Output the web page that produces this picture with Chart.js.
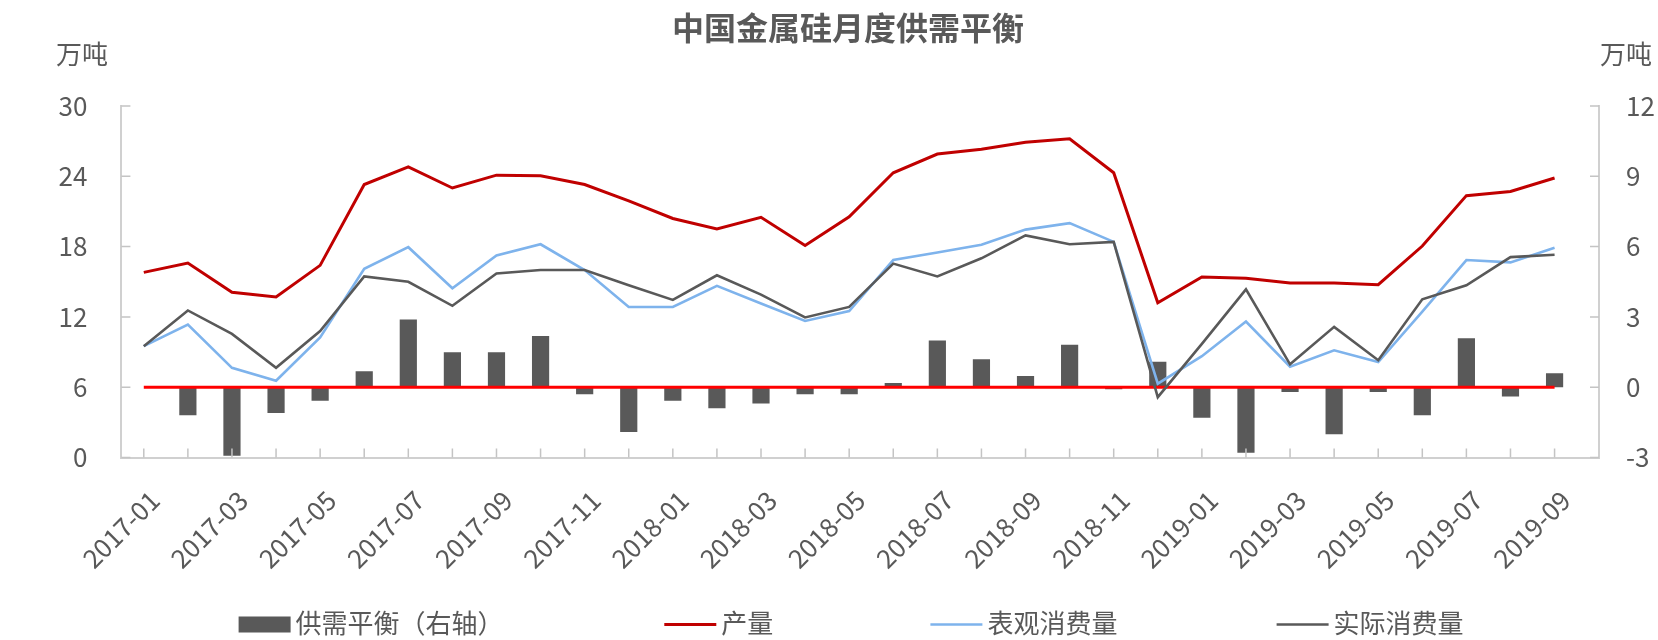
<!DOCTYPE html>
<html><head><meta charset="utf-8">
<script src="https://cdn.jsdelivr.net/npm/chart.js@4.4.1/dist/chart.umd.min.js"></script>
<style>html,body{margin:0;padding:0;background:#fff;}#wrap{width:1658px;height:640px;position:relative;}</style>
</head><body><div id="wrap"><canvas id="c"></canvas></div>
<script>
// ---- data ----
const months = ['2017-01','2017-02','2017-03','2017-04','2017-05','2017-06','2017-07','2017-08','2017-09','2017-10','2017-11','2017-12',
  '2018-01','2018-02','2018-03','2018-04','2018-05','2018-06','2018-07','2018-08','2018-09','2018-10','2018-11','2018-12',
  '2019-01','2019-02','2019-03','2019-04','2019-05','2019-06','2019-07','2019-08','2019-09'];
const production = [15.8,16.6,14.1,13.7,16.4,23.3,24.8,23.0,24.1,24.05,23.3,21.9,
  20.4,19.5,20.5,18.1,20.55,24.3,25.9,26.3,26.9,27.2,24.3,13.2,
  15.4,15.3,14.9,14.9,14.75,18.05,22.35,22.7,23.85];
const apparentConsumption = [9.5,11.35,7.65,6.55,10.25,16.1,17.95,14.45,17.25,18.2,16.0,12.85,
  12.85,14.65,13.15,11.65,12.5,16.85,17.5,18.15,19.45,20.0,18.4,6.3,
  8.65,11.6,7.75,9.15,8.15,12.45,16.85,16.65,17.9];
const actualConsumption = [9.5,12.55,10.55,7.65,10.8,15.45,15.0,12.95,15.7,16.0,16.0,14.7,
  13.45,15.55,13.9,11.95,12.85,16.55,15.45,17.0,18.95,18.2,18.4,5.15,
  9.7,14.35,7.95,11.15,8.3,13.5,14.7,17.1,17.3];
const balance = [0,-1.2,-2.92,-1.1,-0.58,0.68,2.89,1.49,1.49,2.19,-0.3,-1.91,
  -0.58,-0.9,-0.7,-0.3,-0.3,0.18,1.99,1.19,0.48,1.81,-0.09,1.09,
  -1.3,-2.8,-0.21,-2.01,-0.21,-1.2,2.09,-0.4,0.6];
const leftAxis = {min: 0, max: 30, step: 6};
const rightAxis = {min: -3, max: 12, step: 3};
const title = '中国金属硅月度供需平衡';
const unitLabel = '万吨';
const seriesNames = ['供需平衡（右轴）','产量','表观消费量','实际消费量'];

// ---- style ----
const FONT = "'Noto Sans CJK SC','Noto Sans',sans-serif";
const TXT = '#595959';
const AXIS = '#d0d0d0';
const TICK = '#c4c4c4';
Chart.defaults.font.family = FONT;
Chart.defaults.color = TXT;

const pts = arr => arr.map((v, i) => ({x: i, y: v}));

const decor = {
  id: 'decor',
  afterDatasetDraw(chart, args) {
    if (args.index !== 0) return;
    const {ctx, scales: {x, y1}} = chart;
    const yy = y1.getPixelForValue(0);
    ctx.save();
    ctx.strokeStyle = '#FF0000'; ctx.lineWidth = 3;
    ctx.beginPath();
    ctx.moveTo(x.getPixelForValue(0), yy);
    ctx.lineTo(x.getPixelForValue(months.length - 1), yy);
    ctx.stroke();
    ctx.restore();
  },
  afterDraw(chart) {
    const {ctx, chartArea: ca, scales: {x, y, y1}} = chart;
    ctx.save();
    // inward tick marks
    ctx.strokeStyle = TICK; ctx.lineWidth = 1.5;
    ctx.beginPath();
    months.forEach((m, i) => { const px = x.getPixelForValue(i); ctx.moveTo(px, ca.bottom); ctx.lineTo(px, ca.bottom - 9); });
    for (let v = leftAxis.min; v <= leftAxis.max; v += leftAxis.step) { const py = y.getPixelForValue(v); ctx.moveTo(ca.left, py); ctx.lineTo(ca.left + 9, py); }
    for (let v = rightAxis.min; v <= rightAxis.max; v += rightAxis.step) { const py = y1.getPixelForValue(v); ctx.moveTo(ca.right, py); ctx.lineTo(ca.right - 9, py); }
    ctx.stroke();
    // unit labels
    ctx.fillStyle = TXT; ctx.font = '26px ' + FONT; ctx.textBaseline = 'middle';
    ctx.textAlign = 'left';
    ctx.fillText(unitLabel, 56, 54);
    ctx.fillText(unitLabel, 1600, 54);
    // legend
    const ds = chart.data.datasets;
    const starts = [238.6, 664.3, 930.4, 1276.6];
    const ly = 624.5;
    ds.forEach((d, i) => {
      const sx = starts[i];
      if (d.type === 'bar') {
        ctx.fillStyle = d.backgroundColor;
        ctx.fillRect(sx, ly - 8, 52, 16);
      } else {
        ctx.strokeStyle = d.borderColor; ctx.lineWidth = d.borderWidth;
        ctx.beginPath(); ctx.moveTo(sx, ly); ctx.lineTo(sx + 52, ly); ctx.stroke();
      }
      ctx.fillStyle = TXT;
      ctx.fillText(d.label, sx + 57, ly - 1);
    });
    ctx.restore();
  }
};

new Chart(document.getElementById('c'), {
  data: {
    datasets: [
      {type: 'bar', label: seriesNames[0], data: pts(balance), yAxisID: 'y1', backgroundColor: '#595959',
        barPercentage: 0.39, categoryPercentage: 1, order: 10},
      {type: 'line', label: seriesNames[1], data: pts(production), yAxisID: 'y', borderColor: '#C00000', borderWidth: 3,
        pointRadius: 0, tension: 0, fill: false, order: 3},
      {type: 'line', label: seriesNames[2], data: pts(apparentConsumption), yAxisID: 'y', borderColor: '#7EB3EC', borderWidth: 2.6,
        pointRadius: 0, tension: 0, fill: false, order: 2},
      {type: 'line', label: seriesNames[3], data: pts(actualConsumption), yAxisID: 'y', borderColor: '#595959', borderWidth: 2.6,
        pointRadius: 0, tension: 0, fill: false, order: 1}
    ]
  },
  options: {
    responsive: true, maintainAspectRatio: false, animation: false,
    layout: {padding: {left: 38, right: 0, top: 0, bottom: 0}},
    plugins: {
      legend: {display: false},
      tooltip: {enabled: false},
      title: {display: true, text: title, color: TXT, font: {size: 32, weight: 'bold', family: FONT},
        padding: {top: 9, bottom: 58.6}}
    },
    scales: {
      x: {
        type: 'linear', min: 0, max: months.length - 0.5,
        afterBuildTicks: s => { s.ticks = months.map((m, i) => ({value: i})); },
        afterFit: s => { s.height = 182.5; },
        grid: {display: false, drawTicks: false},
        border: {display: true, color: AXIS, width: 2},
        ticks: {autoSkip: false, minRotation: 45, maxRotation: 45, padding: 27, labelOffset: 11,
          font: {size: 26}, color: TXT,
          callback: v => (Number.isInteger(v) && v % 2 === 0) ? months[v] : ''}
      },
      y: {
        position: 'left', min: leftAxis.min, max: leftAxis.max,
        afterFit: s => { s.width = 83.4; },
        grid: {display: false, drawTicks: false},
        border: {display: true, color: AXIS, width: 2},
        ticks: {stepSize: leftAxis.step, padding: 34, font: {size: 26}, color: TXT}
      },
      y1: {
        position: 'right', min: rightAxis.min, max: rightAxis.max,
        afterFit: s => { s.width = 59; },
        grid: {display: false, drawTicks: false},
        border: {display: true, color: AXIS, width: 2},
        ticks: {stepSize: rightAxis.step, padding: 27, font: {size: 26}, color: TXT}
      }
    }
  },
  plugins: [decor]
});
</script></body></html>
